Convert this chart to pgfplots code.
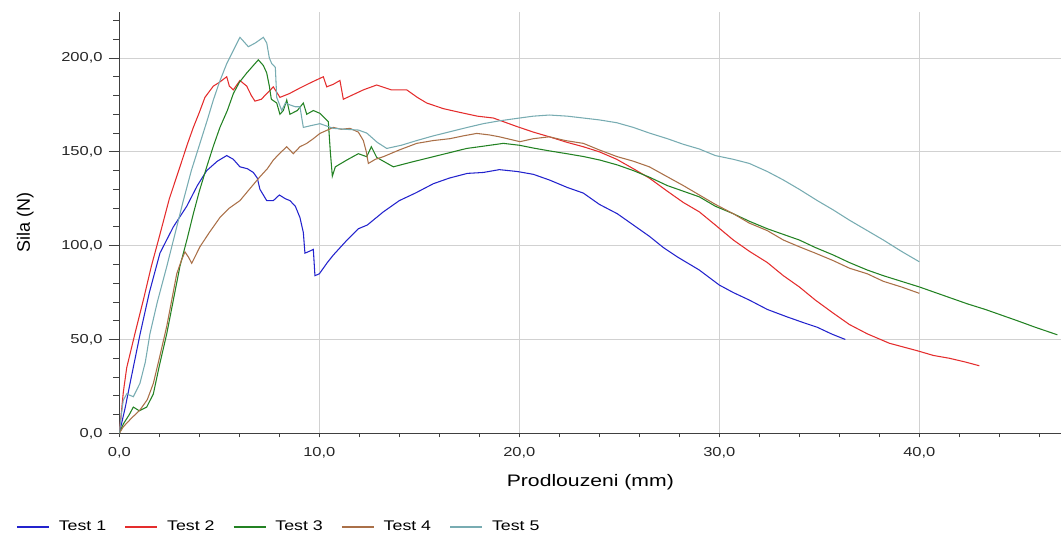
\documentclass[border=0pt]{standalone}
\usepackage{pgfplots}
\pgfplotsset{compat=1.18}
\usepackage{fontspec}
\setmainfont{Liberation Sans}[FakeStretch=1.27]
\newfontfamily\plainsans{Liberation Sans}
\definecolor{cA}{RGB}{35,35,205}
\definecolor{cB}{RGB}{228,45,45}
\definecolor{cC}{RGB}{35,130,35}
\definecolor{cD}{RGB}{170,112,72}
\definecolor{cE}{RGB}{120,172,178}
\begin{document}
\begin{tikzpicture}
\useasboundingbox (-89.5pt,-78.5pt) rectangle (707pt,325pt);
\begin{axis}[
  at={(0pt,0pt)}, anchor=south west,
  scale only axis, width=706.5pt, height=316pt,
  xmin=0, xmax=47.1, ymin=0, ymax=224.5,
  axis lines*=left,
  axis line style={black!75, line width=0.8pt, -},
  xtick={0,10,20,30,40}, minor xtick={2,4,...,46},
  ytick={0,50,100,150,200}, minor ytick={10,20,...,220},
  grid=major, major grid style={black!18, line width=0.6pt},
  tick align=outside, major tick length=8pt, minor tick length=4.5pt,
  tick style={black!75, line width=0.6pt},
  xtick style={/pgfplots/major tick length=3pt,/pgfplots/minor tick length=3pt},
  /pgf/number format/.cd, fixed, fixed zerofill, precision=1, use comma, assume math mode=true,
  /pgfplots/.cd,
  ticklabel style={font=\fontsize{9.75}{11}\selectfont, text=black!85},
  xticklabel style={yshift=1pt},
  yticklabel style={xshift=-1pt},
  xlabel={Prodlouzeni (mm)},
  ylabel={{\plainsans Sila (N)}},
  xlabel style={font=\fontsize{12.5}{14}\selectfont, at={([yshift=-37pt]axis description cs:0.5,0)}, anchor=center},
  ylabel style={font=\fontsize{13.5}{15}\selectfont, at={([xshift=-70.5pt]axis description cs:0,0.5)}, anchor=center},
  legend columns=5,
  legend style={at={([xshift=-77.5pt,yshift=-70.3pt]axis description cs:0,0)}, anchor=west, draw=none, fill=none, inner sep=0pt,
    font=\fontsize{10.5}{12}\selectfont,
    /tikz/every odd column/.append style={column sep=4.9pt},
    /tikz/every even column/.append style={column sep=11.75pt}},
  legend image code/.code={\draw[#1, line width=1pt] (0pt,0pt) -- (24pt,0pt);},
  every axis plot/.append style={line width=0.8pt, mark=none},
]
% Test 1
\addplot[color=cA] coordinates {
(0,0) (0.3,14) (0.6,30) (1.04,53) (1.5,75) (2.03,96) (2.7,110) (3.37,121) (3.9,132) (4.37,140)
(4.9,145) (5.37,148) (5.7,146) (6.03,142) (6.4,141) (6.7,139) (6.9,136) (7.03,130) (7.37,124)
(7.7,124) (8.0,127) (8.3,125) (8.53,124) (8.8,121) (9.03,115) (9.2,107) (9.28,96) (9.5,97)
(9.7,98) (9.78,84) (10.0,85) (10.4,91) (10.7,95) (11.3,102) (11.95,109) (12.4,111) (13.2,118)
(14.0,124) (14.8,128) (15.7,133) (16.5,136) (17.4,138.5) (18.2,139) (19.0,140.5) (19.9,139.5)
(20.7,138) (21.5,135) (22.4,131) (23.2,128) (24.0,122) (24.9,117) (25.7,111) (26.5,105)
(27.2,99) (27.9,94) (29.0,87) (30.0,79) (30.7,75) (31.5,71) (32.4,66) (33.4,62) (34.2,59)
(34.9,56.5) (35.6,53) (36.3,50)
};
\addlegendentry{Test 1}
% Test 2
\addplot[color=cB] coordinates {
(0,0) (0.2,22) (0.37,35) (0.8,54) (1.2,71) (1.6,89) (2.03,106) (2.5,125) (3.03,142) (3.4,154)
(3.7,163) (4.0,171) (4.28,179) (4.7,185) (5.0,187) (5.37,190) (5.5,185) (5.7,183) (6.03,188)
(6.37,185) (6.6,180) (6.78,177) (7.1,178) (7.37,181) (7.7,184.6) (8.03,179) (8.5,181) (9.03,184)
(9.6,187) (10.2,190) (10.37,184.6) (10.7,186) (11.03,188) (11.2,178) (11.6,180) (12.2,183)
(12.87,185.6) (13.6,183) (14.37,183) (14.9,179) (15.37,176) (16.2,173) (17.03,171) (17.9,169)
(18.7,168) (19.87,163.5) (20.7,160.5) (21.5,158) (22.4,155) (23.2,152.7) (24.0,150) (24.87,146)
(25.7,141) (26.5,136) (27.4,129) (28.2,123) (29.0,118) (29.8,111) (30.7,103) (31.5,97)
(32.4,91) (33.2,84) (34.0,78) (34.8,71) (35.7,64) (36.5,58) (37.4,53) (38.5,48) (39.9,44)
(40.7,41.5) (41.5,40) (42.3,38) (43.0,36)
};
\addlegendentry{Test 2}
% Test 3
\addplot[color=cC] coordinates {
(0,0) (0.2,5) (0.5,10) (0.7,14) (1.0,12) (1.37,14) (1.7,21) (2.0,36) (2.37,53) (2.7,71)
(3.03,89) (3.4,104) (3.7,117) (4.0,129) (4.37,142) (4.7,153) (5.03,163) (5.4,172) (5.7,181)
(6.0,187) (6.37,192) (6.7,196) (6.95,199) (7.2,196) (7.37,192) (7.5,185) (7.6,178) (7.87,176)
(8.03,170) (8.2,172) (8.37,177.6) (8.53,170) (8.9,172) (9.2,176) (9.37,170) (9.7,172)
(10.03,170.5) (10.45,166) (10.55,150) (10.65,137) (10.8,142) (11.37,145.6) (11.95,149)
(12.37,147.4) (12.6,152.7) (12.87,147) (13.2,145) (13.7,142) (14.6,144.5) (15.7,147.4)
(16.5,149.5) (17.37,151.8) (18.2,153) (19.2,154.5) (20.0,153.5) (20.7,152) (21.5,150.5)
(22.37,149) (23.2,147.5) (24.03,145.6) (24.9,143) (25.7,140) (26.5,136.5) (27.4,132)
(28.2,129) (29.0,126) (29.8,121) (30.7,117) (31.5,113) (32.4,109) (33.2,106) (34.0,103)
(34.8,99) (35.7,95) (36.5,91) (37.4,87) (38.2,84) (39.1,81) (40.0,78) (40.8,75) (41.6,72)
(42.4,69) (43.3,66) (44.1,63) (44.9,60) (45.8,56.5) (46.9,52.5)
};
\addlegendentry{Test 3}
% Test 4
\addplot[color=cD] coordinates {
(0,0) (0.2,3.5) (0.6,8) (1.03,12.4) (1.4,18) (1.7,26.6) (2.0,40) (2.37,57) (2.87,85) (3.1,92)
(3.28,96.7) (3.45,94) (3.62,90.6) (4.03,99.4) (4.5,107) (5.03,115) (5.5,120) (6.03,124)
(6.5,130) (7.03,136.7) (7.4,141) (7.7,145.6) (8.0,149) (8.37,152.7) (8.7,149) (9.03,152.7)
(9.37,154.5) (9.7,157) (10.03,159.8) (10.7,163) (11.1,162) (11.53,162.5) (11.95,160.5)
(12.2,156) (12.35,150) (12.45,143.8) (12.8,146) (13.2,147.4) (14.0,151) (14.87,154.5)
(15.7,156) (16.53,157) (17.2,158.5) (17.87,159.8) (18.5,159) (19.0,158) (20.03,155.4)
(20.7,157) (21.5,158) (22.3,156) (23.2,154.5) (24.0,151) (24.87,147.5) (25.7,145) (26.5,142)
(27.4,136.7) (28.2,132) (29.0,127) (29.8,122) (30.7,117) (31.5,112) (32.4,108) (33.2,103)
(34.0,99.4) (34.8,96) (35.7,92) (36.5,88) (37.4,85) (38.2,81) (39.1,78) (40.0,74.6)
};
\addlegendentry{Test 4}
% Test 5
\addplot[color=cE] coordinates {
(0,0) (0.1,10) (0.2,17.7) (0.37,21) (0.7,19.5) (1.03,26.6) (1.3,38) (1.53,53) (1.9,70)
(2.37,88.8) (2.8,107) (3.2,124) (3.6,140) (4.03,154.5) (4.4,167) (4.7,177.6) (5.0,187)
(5.37,197) (5.7,204) (6.03,211) (6.2,209) (6.45,206) (6.8,208) (7.2,211) (7.37,208) (7.5,200)
(7.62,197) (7.8,195) (7.87,179) (8.12,172) (8.3,176) (8.53,175) (8.8,174) (9.03,174) (9.2,163)
(9.6,164) (10.03,165) (10.7,162.5) (11.3,162) (11.95,161.6) (12.37,160) (12.9,155)
(13.37,151.8) (14.1,153.5) (14.87,156) (15.7,158.5) (16.53,160.7) (17.4,163) (18.2,165)
(19.0,166.5) (19.87,167.8) (20.7,169) (21.5,169.6) (22.4,169) (23.2,168) (24.0,167)
(24.87,165.5) (25.7,163) (26.5,160) (27.4,157) (28.2,154) (29.0,151.5) (29.8,148) (30.7,146)
(31.5,143.8) (32.4,139.5) (33.2,135) (34.0,130) (34.9,124) (35.7,119) (36.5,113.6) (37.4,108)
(38.2,103) (39.1,97) (40.0,91.4)
};
\addlegendentry{Test 5}
\end{axis}
\end{tikzpicture}
\end{document}
